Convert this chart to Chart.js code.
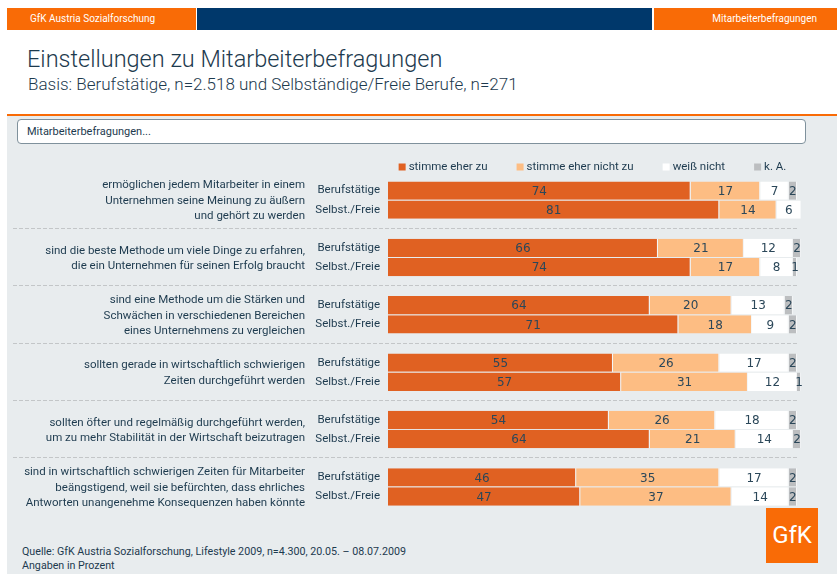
<!DOCTYPE html>
<html lang="de">
<head>
<meta charset="utf-8">
<title>Einstellungen zu Mitarbeiterbefragungen</title>
<script src="https://cdn.jsdelivr.net/npm/chart.js@4.4.1/dist/chart.umd.min.js"></script>
<style>
    body { margin: 0; width: 837px; height: 574px; position: relative; background: #fff; font-family: Roboto, 'Liberation Sans', sans-serif; color: #1d3a4e; overflow: hidden; }
    .abs { position: absolute; }
    .hdr { top: 8px; height: 22px; line-height: 22px; color: #fff; font-size: 10px; }
    #title { left: 27px; top: 45px; font-size: 23.5px; font-weight: 300; white-space: nowrap; }
    #subtitle { left: 28px; top: 74px; font-size: 17px; font-weight: 300; white-space: nowrap; }
    #panel { left: 7px; top: 114px; width: 830px; height: 460px; background: #e8ecee; border-top: 2px solid #f96b06; }
    #intro { left: 17px; top: 119px; width: 787px; height: 23px; line-height: 23px; background: #fff; border: 1px solid #7f919c; border-radius: 4px; font-size: 11px; }
    #intro span { margin-left: 9px; }
    #source { left: 22px; top: 545px; font-size: 10.7px; line-height: 14px; }
    #logo { left: 766px; top: 508px; width: 52px; height: 55px; background: #f96b06; color: #fff; font-size: 24px; text-align: center; line-height: 55px; }
    #chartBox { left: 7px; top: 134px; width: 830px; height: 387px; }
</style>
</head>
<body>
<div class="abs hdr" style="left:7px;width:189px;background:#f96b06;"><span style="margin-left:23px;">GfK Austria Sozialforschung</span></div>
<div class="abs hdr" style="left:197px;width:455px;background:#00386b;"></div>
<div class="abs hdr" style="left:654px;width:183px;background:#f96b06;text-align:right;"><span style="margin-right:20px;">Mitarbeiterbefragungen</span></div>
<div class="abs" id="title">Einstellungen zu Mitarbeiterbefragungen</div>
<div class="abs" id="subtitle">Basis: Berufstätige, n=2.518 und Selbständige/Freie Berufe, n=271</div>
<div class="abs" id="panel"></div>
<div class="abs" id="intro"><span>Mitarbeiterbefragungen...</span></div>
<div class="abs" id="chartBox"><canvas id="surveyChart" width="830" height="387"></canvas></div>
<div class="abs" id="source">Quelle: GfK Austria Sozialforschung, Lifestyle 2009, n=4.300, 20.05. – 08.07.2009<br>Angaben in Prozent</div>
<div class="abs" id="logo">GfK</div>

<script>
// Statements (left labels), one per group
const statements = [
    ['ermöglichen jedem Mitarbeiter in einem', 'Unternehmen seine Meinung zu äußern', 'und gehört zu werden'],
    ['sind die beste Methode um viele Dinge zu erfahren,', 'die ein Unternehmen für seinen Erfolg braucht'],
    ['sind eine Methode um die Stärken und', 'Schwächen in verschiedenen Bereichen', 'eines Unternehmens zu vergleichen'],
    ['sollten gerade in wirtschaftlich schwierigen', 'Zeiten durchgeführt werden'],
    ['sollten öfter und regelmäßig durchgeführt werden,', 'um zu mehr Stabilität in der Wirtschaft beizutragen'],
    ['sind in wirtschaftlich schwierigen Zeiten für Mitarbeiter', 'beängstigend, weil sie befürchten, dass ehrliches', 'Antworten unangenehme Konsequenzen haben könnte']
];
const groups = ['Berufstätige', 'Selbst./Freie'];
const seriesNames = ['stimme eher zu', 'stimme eher nicht zu', 'weiß nicht', 'k. A.'];

// Values per statement: Berufstätige / Selbst./Freie
const zuBeruf = [74, 66, 64, 55, 54, 46];
const zuSelbst = [81, 74, 71, 57, 64, 47];
const nichtZuBeruf = [17, 21, 20, 26, 26, 35];
const nichtZuSelbst = [14, 17, 18, 31, 21, 37];
const weissNichtBeruf = [7, 12, 13, 17, 18, 17];
const weissNichtSelbst = [6, 8, 9, 12, 14, 14];
const kaBeruf = [2, 2, 2, 2, 2, 2];
const kaSelbst = [0, 1, 2, 1, 2, 2];

const seriesColors = ['#e06122', '#fdbd83', '#ffffff', '#bcbec0'];
const textColor = '#1d3a4e';
const labelFont = '11.5px Roboto, sans-serif';

document.addEventListener('DOMContentLoaded', () => {
    initializeSurveyChart();
});

// Build rows: Berufstätige, Selbst./Freie, empty spacer between statements
function buildLabels() {
    const labels = [];
    statements.forEach((s, i) => {
        labels.push(groups[0], groups[1]);
        if (i < statements.length - 1) labels.push('');
    });
    return labels;
}

function buildRows(beruf, selbst) {
    const rows = [];
    statements.forEach((s, i) => {
        rows.push(beruf[i], selbst[i]);
        if (i < statements.length - 1) rows.push(null);
    });
    return rows;
}

// Numbers inside the bar segments
const valueLabels = {
    id: 'valueLabels',
    afterDatasetsDraw(chart) {
        const ctx = chart.ctx;
        ctx.save();
        ctx.font = '12px "DejaVu Sans", sans-serif';
        ctx.fillStyle = '#2b4759';
        ctx.textAlign = 'center';
        ctx.textBaseline = 'middle';
        chart.data.datasets.forEach((ds, di) => {
            chart.getDatasetMeta(di).data.forEach((bar, i) => {
                const v = ds.data[i];
                if (!v) return;
                ctx.fillText(v, (bar.x + bar.base) / 2, bar.y + 1);
            });
        });
        ctx.restore();
    }
};

// Legend row above the bars, centred on the plot area
const legendRow = {
    id: 'legendRow',
    afterDraw(chart) {
        const ctx = chart.ctx;
        const area = chart.chartArea;
        const gap = 29, box = 7, textGap = 3;
        ctx.save();
        ctx.font = labelFont;
        ctx.textBaseline = 'middle';
        const items = chart.data.datasets.map(ds => ({
            label: ds.label,
            color: ds.backgroundColor,
            w: box + textGap + ctx.measureText(ds.label).width
        }));
        const total = items.reduce((s, it) => s + it.w, 0) + gap * (items.length - 1);
        let x = (area.left + area.right) / 2 - total / 2;
        const y = area.top - 14;
        items.forEach(it => {
            ctx.fillStyle = it.color;
            ctx.fillRect(x, y - box / 2, box, box);
            ctx.fillStyle = textColor;
            ctx.fillText(it.label, x + box + textGap, y);
            x += it.w + gap;
        });
        ctx.restore();
    }
};

// Statement text on the left and dashed separators between groups
const groupDecor = {
    id: 'groupDecor',
    beforeDatasetsDraw(chart) {
        const ctx = chart.ctx;
        const y = chart.scales.y;
        ctx.save();
        ctx.strokeStyle = '#c3c6c8';
        ctx.lineWidth = 1;
        ctx.setLineDash([4, 2]);
        for (let i = 0; i < statements.length - 1; i++) {
            const py = Math.round(y.getPixelForValue(i * 3 + 2)) - 0.5;
            ctx.beginPath();
            ctx.moveTo(6, py);
            ctx.lineTo(chart.chartArea.right, py);
            ctx.stroke();
        }
        ctx.setLineDash([]);
        ctx.font = labelFont;
        ctx.fillStyle = textColor;
        ctx.textAlign = 'right';
        ctx.textBaseline = 'middle';
        const lineH = 15.5;
        statements.forEach((lines, i) => {
            const mid = (y.getPixelForValue(i * 3) + y.getPixelForValue(i * 3 + 1)) / 2 + 1;
            const top = mid - (lines.length - 1) * lineH / 2;
            lines.forEach((l, k) => ctx.fillText(l, 298, top + k * lineH));
        });
        ctx.restore();
    }
};

function initializeSurveyChart() {
    const ctx = document.getElementById('surveyChart').getContext('2d');
    const values = [
        buildRows(zuBeruf, zuSelbst),
        buildRows(nichtZuBeruf, nichtZuSelbst),
        buildRows(weissNichtBeruf, weissNichtSelbst),
        buildRows(kaBeruf, kaSelbst)
    ];
    new Chart(ctx, {
        type: 'bar',
        data: {
            labels: buildLabels(),
            datasets: seriesNames.map((name, i) => ({
                label: name,
                data: values[i],
                backgroundColor: seriesColors[i],
                borderColor: 'rgba(255,255,255,0.6)',
                borderWidth: { right: 1, top: 0, bottom: 0, left: 0 },
                borderSkipped: false,
                barPercentage: 0.96,
                categoryPercentage: 1,
                clip: false
            }))
        },
        options: {
            indexAxis: 'y',
            responsive: false,
            animation: false,
            layout: { padding: { right: 40, top: 47, bottom: 0, left: 0 } },
            plugins: {
                legend: { display: false },
                tooltip: { enabled: false }
            },
            scales: {
                x: {
                    stacked: true,
                    min: 0,
                    max: 100,
                    display: false
                },
                y: {
                    stacked: true,
                    grid: { display: false, drawTicks: false },
                    border: { display: false },
                    afterFit: scale => { scale.width = 381; },
                    ticks: {
                        padding: 8,
                        color: textColor,
                        font: { family: 'Roboto', size: 11.5 }
                    }
                }
            }
        },
        plugins: [groupDecor, valueLabels, legendRow]
    });
}
</script>
</body>
</html>
